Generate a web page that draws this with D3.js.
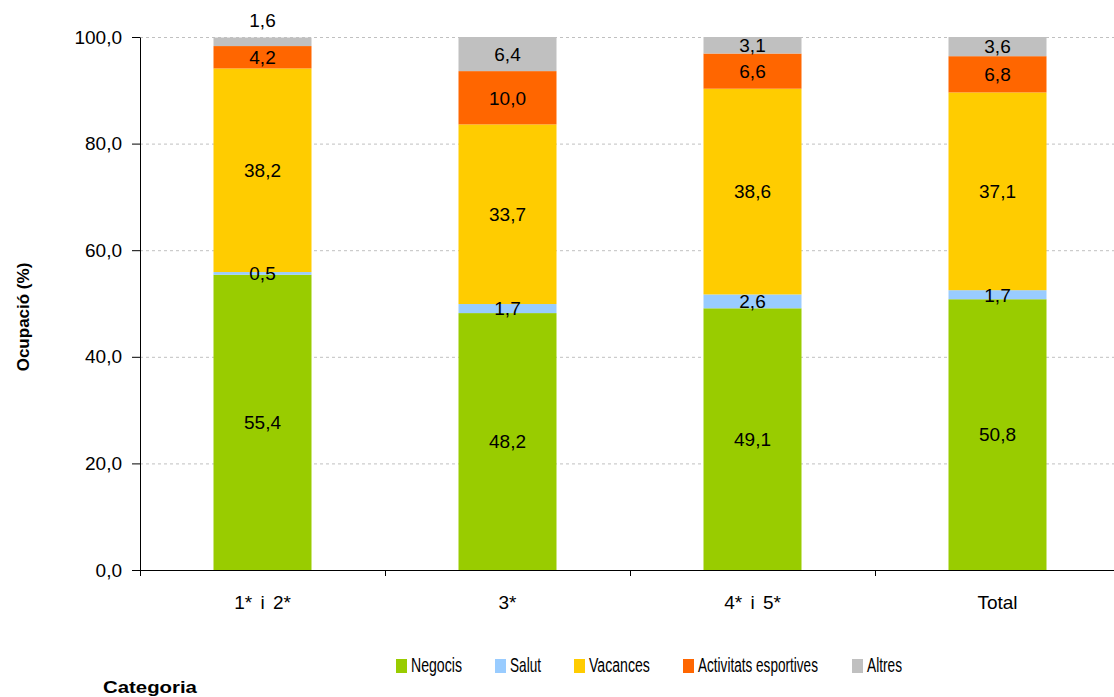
<!DOCTYPE html>
<html><head><meta charset="utf-8">
<script src="https://cdn.jsdelivr.net/npm/d3@7"></script>
<style>body{margin:0;background:#fff;} svg{display:block;}</style>
</head><body>
<svg id="c" width="1114" height="697"></svg>
<script>
const categories = ["1* i 2*", "3*", "4* i 5*", "Total"];
const seriesNames = ["Negocis", "Salut", "Vacances", "Activitats esportives", "Altres"];
const negocis = [55.4, 48.2, 49.1, 50.8];
const salut = [0.5, 1.7, 2.6, 1.7];
const vacances = [38.2, 33.7, 38.6, 37.1];
const activitats = [4.2, 10.0, 6.6, 6.8];
const altres = [1.6, 6.4, 3.1, 3.6];
const colors = ["#99CC00", "#99CCFF", "#FFCC00", "#FF6600", "#C0C0C0"];
const yTicks = [0, 20, 40, 60, 80, 100];

(function(){
const seriesVals = [negocis, salut, vacances, activitats, altres];
const rows = categories.map((c, i) => {
  const r = {cat: c};
  seriesNames.forEach((s, j) => r[s] = seriesVals[j][i]);
  return r;
});
const stack = d3.stack().keys(seriesNames)(rows);

const svg = d3.select("#c");
const mLeft = 140, mRight = 1120, mTop = 37, mBottom = 570;
const x = d3.scaleBand().domain(categories).range([mLeft, mRight]).paddingInner(0).paddingOuter(0);
const y = d3.scaleLinear().domain([0, 100]).range([mBottom, mTop]);
const fmt = v => v.toFixed(1).replace(".", ",");
const font = "'Liberation Sans', Arial, sans-serif";
const fs = 19;

// gridlines
svg.append("g").selectAll("line").data(yTicks.filter(t => t > 0)).join("line")
  .attr("x1", mLeft).attr("x2", 1114)
  .attr("y1", d => y(d) + 0.5).attr("y2", d => y(d) + 0.5)
  .attr("stroke", "#c0c0c0").attr("stroke-width", 1).attr("stroke-dasharray", "3,3");

// bars
const bw = x.bandwidth() * 0.4;
const g = svg.append("g");
stack.forEach((layer, j) => {
  g.selectAll(null).data(layer).join("rect")
    .attr("x", d => x(d.data.cat) + (x.bandwidth() - bw) / 2)
    .attr("width", bw)
    .attr("y", d => y(d[1]))
    .attr("height", d => y(d[0]) - y(d[1]))
    .attr("fill", colors[j]);
});

// labels
stack.forEach((layer, j) => {
  g.selectAll(null).data(layer).join("text")
    .attr("x", d => x(d.data.cat) + x.bandwidth() / 2)
    .attr("y", d => {
      const v = d[1] - d[0];
      if (j === seriesNames.length - 1 && v < 2) return y(d[1]) - 17;
      return y((d[0] + d[1]) / 2);
    })
    .attr("dy", "0.36em")
    .attr("text-anchor", "middle")
    .attr("font-family", font).attr("font-size", fs).attr("fill", "#000")
    .text(d => fmt(d[1] - d[0]));
});

// y axis
const yAxis = d3.axisLeft(y).tickValues(yTicks).tickFormat(fmt).tickSize(8).tickSizeOuter(0);
const ya = svg.append("g").attr("transform", `translate(${mLeft},0)`).call(yAxis);
ya.select(".domain").attr("stroke", "#000");
ya.selectAll(".tick line").attr("stroke", "#000");
ya.selectAll(".tick text").attr("font-family", font).attr("font-size", fs).attr("fill", "#000").attr("x", -18);

// x axis
const xa = svg.append("g").attr("transform", `translate(0,${mBottom})`);
xa.append("line").attr("x1", mLeft - 8).attr("x2", 1114).attr("y1", 0.5).attr("y2", 0.5).attr("stroke", "#000");
const bounds = categories.map(c => x(c)).concat([x(categories[categories.length-1]) + x.bandwidth()]);
xa.selectAll("line.t").data(bounds.filter(b => b < 1114)).join("line").attr("class", "t")
  .attr("x1", d => d + 0.5).attr("x2", d => d + 0.5).attr("y1", 0).attr("y2", 6).attr("stroke", "#000");
xa.selectAll("text").data(categories).join("text")
  .attr("x", d => x(d) + x.bandwidth() / 2).attr("y", 39)
  .attr("text-anchor", "middle").attr("font-family", font).attr("font-size", fs).attr("fill", "#000")
  .attr("word-spacing", 3)
  .text(d => d);

// axis titles
svg.append("text").attr("transform", "translate(29,317) rotate(-90)")
  .attr("text-anchor", "middle").attr("font-family", font).attr("font-size", 17).attr("font-weight", "bold")
  .attr("fill", "#000").text("Ocupació (%)");

function fitText(sel, xPos, yPos, width) {
  const w = sel.node().getComputedTextLength();
  sel.attr("transform", `translate(${xPos},${yPos}) scale(${width / w},1)`);
}
const cat = svg.append("text")
  .attr("font-family", font).attr("font-size", 16).attr("font-weight", "bold").attr("fill", "#000")
  .text("Categoria");
fitText(cat, 103, 693, 94);

// legend
const legX = [396, 495, 574, 683, 852];
const legW = [51, 31, 61, 120, 35];
const leg = svg.append("g");
seriesNames.forEach((s, j) => {
  leg.append("rect").attr("x", legX[j]).attr("y", 659).attr("width", 11).attr("height", 14).attr("fill", colors[j]);
  const t = leg.append("text")
    .attr("font-family", font).attr("font-size", 21).attr("fill", "#000").text(s);
  fitText(t, legX[j] + 15, 672, legW[j]);
});
})();
</script>
</body></html>
